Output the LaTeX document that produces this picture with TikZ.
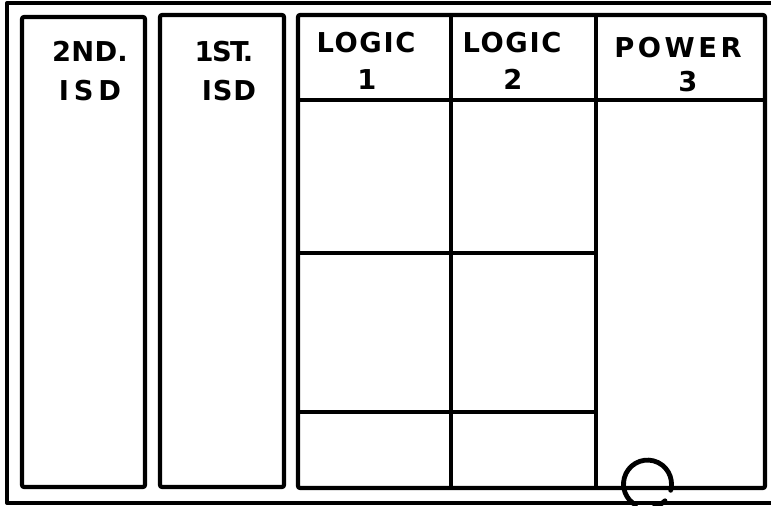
\documentclass[tikz,border=0pt]{standalone}
\usepackage{fontspec}
\newfontfamily\lbl{DejaVu Sans}
\begin{document}
\begin{tikzpicture}[x=0.75pt,y=-0.75pt,line join=round]
\useasboundingbox (0,0) rectangle (771,506);
\tikzset{
  outer/.style={line width=2.5pt},
  frame/.style={line width=3.1pt,rounded corners=1.5pt},
  grid/.style={line width=2.8pt},
  lab/.style={font=\lbl\bfseries\fontsize{20.5}{24}\selectfont,anchor=base,inner sep=0pt},
  sp/.style={font=\lbl\bfseries\fontsize{20.5}{24}\selectfont\addfontfeatures{LetterSpace=#1}},
}
% outer frame
\draw[outer] (775,3) -- (7,3) -- (7,503) -- (775,503);
% ISD boxes
\draw[frame] (22,17) rectangle (145,487);
\draw[frame] (160,15) rectangle (284,487);
% logic/power box
\draw[frame] (298,15) rectangle (765,488);
\draw[grid] (298,100) -- (765,100);
\draw[grid] (451,15) -- (451,488);
\draw[grid] (596,15) -- (596,488);
\draw[grid] (298,253) -- (596,253);
\draw[grid] (298,412) -- (596,412);
% loop symbol
\draw[line width=3.6pt,line cap=round] (670.7,490.3) arc[start angle=-15,end angle=240,radius=18pt];
\draw[line width=3.6pt,line cap=round] (654.2,507) arc[start angle=-75,end angle=-45,radius=18pt];
% labels
\node[lab,sp=1] (t1a) at (90,62) {2ND.};
\node[lab,sp=18] (t1b) at (90,101) {ISD};
\node[lab,sp=-6] (t2a) at (224,62) {1ST.};
\node[lab,sp=3] (t2b) at (229,101) {ISD};
\node[lab,sp=6] (t3a) at (366,53) {LOGIC};
\node[lab] (t3b) at (367,90) {1};
\node[lab,sp=6] (t4a) at (512,53) {LOGIC};
\node[lab] (t4b) at (513,90) {2};
\node[lab,sp=13] (t5a) at (678,58) {POWER};
\node[lab] (t5b) at (688,92) {3};
\end{tikzpicture}
\end{document}
